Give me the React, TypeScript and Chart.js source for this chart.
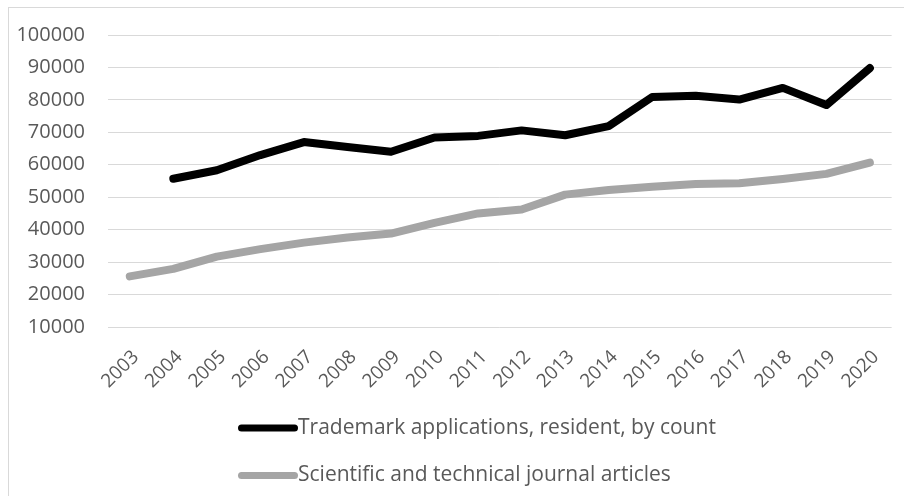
import React, { useEffect, useRef } from "react";
import { Chart, registerables } from "chart.js";

Chart.register(...registerables);

const years = ["2003","2004","2005","2006","2007","2008","2009","2010","2011","2012","2013","2014","2015","2016","2017","2018","2019","2020"];
const trademarkApps: (number | null)[] = [null, 55700, 58300, 63000, 67000, 65500, 64000, 68400, 68900, 70600, 69100, 71900, 80900, 81300, 80100, 83700, 78400, 89800];
const journalArticles: number[] = [25600, 27900, 31700, 34000, 36000, 37600, 38800, 42100, 45000, 46200, 50800, 52200, 53200, 54100, 54300, 55600, 57200, 60700];
const yTicks = [10000, 20000, 30000, 40000, 50000, 60000, 70000, 80000, 90000, 100000];

const seriesNames = ["Trademark applications, resident, by count", "Scientific and technical journal articles"];

const FONT = "'Open Sans', Lato, sans-serif";
const TEXT = "#595959";

const framePlugin = {
  id: "frame",
  beforeDraw(chart: any) {
    const ctx = chart.ctx;
    ctx.save();
    ctx.fillStyle = "#ffffff";
    ctx.fillRect(0, 0, chart.width, chart.height);
    ctx.strokeStyle = "#d9d9d9";
    ctx.lineWidth = 1;
    ctx.strokeRect(8.5, 7.5, chart.width + 20, chart.height + 20);
    ctx.restore();
  },
};

const legendPlugin = {
  id: "stackedLegend",
  afterDraw(chart: any) {
    const ctx = chart.ctx;
    const area = chart.chartArea;
    const x0 = 238;
    const sampleW = 60;
    chart.data.datasets.forEach((ds: any, i: number) => {
      const y = area.bottom + 101 + i * 47.5;
      ctx.save();
      ctx.strokeStyle = ds.borderColor;
      ctx.lineWidth = 7;
      ctx.lineCap = "round";
      ctx.beginPath();
      ctx.moveTo(x0 + 3.5, y);
      ctx.lineTo(x0 + sampleW - 3.5, y);
      ctx.stroke();
      ctx.fillStyle = TEXT;
      ctx.font = `21px ${FONT}`;
      ctx.textBaseline = "middle";
      ctx.textAlign = "left";
      ctx.fillText(ds.label, x0 + sampleW, y);
      ctx.restore();
    });
  },
};

export default function App() {
  const ref = useRef<HTMLCanvasElement | null>(null);
  useEffect(() => {
    if (!ref.current) return;
    const chart = new Chart(ref.current, {
      type: "line",
      data: {
        labels: years,
        datasets: [
          {
            label: seriesNames[0],
            data: trademarkApps,
            borderColor: "#000000",
            backgroundColor: "#000000",
            borderWidth: 8,
            borderCapStyle: "round",
            borderJoinStyle: "round",
            pointRadius: 0,
            tension: 0,
          },
          {
            label: seriesNames[1],
            data: journalArticles,
            borderColor: "#a5a5a5",
            backgroundColor: "#a5a5a5",
            borderWidth: 8,
            borderCapStyle: "round",
            borderJoinStyle: "round",
            pointRadius: 0,
            tension: 0,
          },
        ],
      },
      options: {
        animation: false,
        responsive: false,
        maintainAspectRatio: false,
        layout: { padding: { top: 32, left: 0, right: 0, bottom: 0 } },
        plugins: {
          legend: { display: false },
          tooltip: { enabled: false },
        },
        scales: {
          x: {
            offset: true,
            grid: { display: false, drawTicks: false },
            border: { display: false },
            ticks: {
              color: TEXT,
              font: { family: FONT, size: 19 },
              minRotation: 45,
              maxRotation: 45,
              padding: 19,
              labelOffset: 6,
              autoSkip: false,
            },
            afterFit(scale: any) {
              scale.height = 169;
            },
          },
          y: {
            min: yTicks[0],
            max: yTicks[yTicks.length - 1],
            afterBuildTicks(scale: any) {
              scale.ticks = yTicks.map((v) => ({ value: v }));
            },
            grid: { color: "#d9d9d9", lineWidth: 1, drawTicks: false },
            border: { display: false },
            ticks: {
              color: TEXT,
              font: { family: FONT, size: 20 },
              padding: 23,
              callback: (v: any) => String(v),
            },
            afterFit(scale: any) {
              scale.width = 108;
            },
          },
        },
      },
      plugins: [framePlugin, legendPlugin],
    });
    return () => chart.destroy();
  }, []);
  return (
    <div style={{ position: "fixed", left: 0, top: 0, width: 904, height: 496, overflow: "hidden", background: "#fff" }}>
      <canvas ref={ref} width={905} height={496} style={{ display: "block", width: 905, height: 496 }} />
    </div>
  );
}
